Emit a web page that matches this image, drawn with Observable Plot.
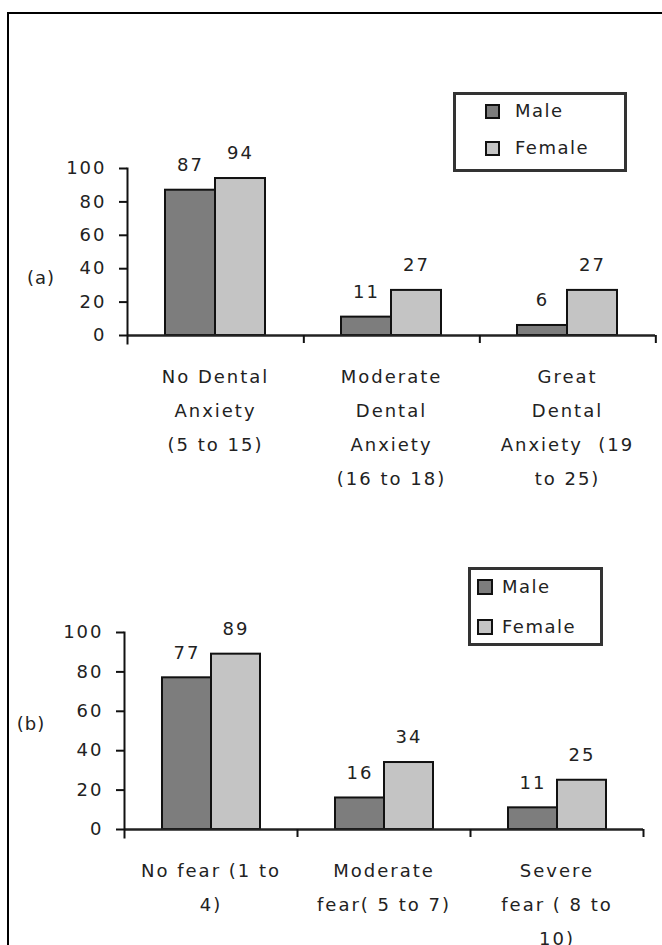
<!DOCTYPE html>
<html>
<head>
<meta charset="utf-8">
<script src="https://cdn.jsdelivr.net/npm/d3@7"></script>
<script src="https://cdn.jsdelivr.net/npm/@observablehq/plot@0.6"></script>
<style>
  html, body { margin: 0; padding: 0; background: #fff; }
  body { width: 662px; height: 945px; overflow: hidden; position: relative; font-family: "DejaVu Sans", sans-serif; color: #222; }
  #border { position: absolute; left: 7px; top: 12px; width: 720px; height: 1000px; border: 2px solid #000; box-sizing: border-box; }
  .panel { position: absolute; left: 0; }
  .panel svg { overflow: visible; }
  .panel svg text { letter-spacing: 2px; }
  .legend { position: absolute; border: 3px solid #333; background: #fff; box-sizing: border-box; font-size: 18px; letter-spacing: 1.5px; }
  .legend .row { position: absolute; height: 20px; line-height: 20px; display: flex; align-items: center; white-space: nowrap; }
  .legend .sw { display: inline-block; width: 15px; height: 15px; border: 2px solid #111; box-sizing: border-box; }
  .tag { position: absolute; font-size: 18px; letter-spacing: 1px; transform: translate(-50%, -50%); white-space: nowrap; }
</style>
</head>
<body>
<div id="border"></div>
<div id="panelA" class="panel" style="top:0px"></div>
<div id="panelB" class="panel" style="top:500px"></div>
<div id="tagA" class="tag" style="left:41px;top:277px"></div>
<div id="tagB" class="tag" style="left:31px;top:723px"></div>
<div id="legendA" class="legend" style="left:453px;top:92px;width:174px;height:80px"></div>
<div id="legendB" class="legend" style="left:468px;top:567px;width:135px;height:79px"></div>
<script>
// ---- data ----
const sexes = ["Male", "Female"];
const sexColors = ["#7d7d7d", "#c4c4c4"];
const yTicks = [0, 20, 40, 60, 80, 100];

const anxietyCategories = [
  "No Dental\nAnxiety\n(5 to 15)",
  "Moderate\nDental\nAnxiety\n(16 to 18)",
  "Great\nDental\nAnxiety  (19\nto 25)"
];
const anxietyMale = [87, 11, 6];
const anxietyFemale = [94, 27, 27];

const fearCategories = [
  "No fear (1 to\n4)",
  "Moderate\nfear( 5 to 7)",
  "Severe\nfear ( 8 to\n10)"
];
const fearMale = [77, 16, 11];
const fearFemale = [89, 34, 25];

const panelTags = ["(a)", "(b)"];

// ---- chart ----
function panel({categories, male, female, height, marginTop, marginBottom, marginLeft, marginRight}) {
  const rows = categories.flatMap((c, i) => [
    {category: c, sex: sexes[0], value: male[i]},
    {category: c, sex: sexes[1], value: female[i]}
  ]);
  const width = 662;
  const bw = (width - marginLeft - marginRight) / categories.length;
  return Plot.plot({
    width, height, marginTop, marginBottom, marginLeft, marginRight,
    style: {fontFamily: '"DejaVu Sans", sans-serif', fontSize: "18px", color: "#222", background: "transparent", overflow: "visible"},
    fx: {domain: categories, padding: 0, label: null},
    x: {domain: sexes, paddingInner: 0, paddingOuter: 0.76, axis: null},
    y: {domain: [0, 100], label: null},
    color: {domain: sexes, range: sexColors},
    marks: [
      Plot.barY(rows, {fx: "category", x: "sex", y: "value", fill: "sex", stroke: "#111", strokeWidth: 2}),
      Plot.text(rows, {fx: "category", x: "sex", y: "value", text: d => String(d.value), dy: -25, fill: "#222"}),
      Plot.ruleY([0], {stroke: "#222", strokeWidth: 2.5}),
      Plot.axisY({ticks: yTicks, tickSize: 8, tickPadding: 13, label: null, strokeWidth: 2, stroke: "#111", fill: "#222"}),
      Plot.frame({anchor: "left", facetAnchor: "left", insetBottom: -8, stroke: "#111", strokeWidth: 2}),
      Plot.axisFx({anchor: "bottom", tickSize: 8, dx: bw / 2, tickFormat: () => "", label: null, stroke: "#111", strokeWidth: 2}),
      Plot.axisFx({anchor: "bottom", tickSize: 0, tickPadding: 23, lineHeight: 1.89, label: null, fill: "#222"})
    ]
  });
}

document.getElementById("panelA").append(panel({
  categories: anxietyCategories, male: anxietyMale, female: anxietyFemale,
  height: 500, marginTop: 168, marginBottom: 165, marginLeft: 126, marginRight: 6
}));
document.getElementById("panelB").append(panel({
  categories: fearCategories, male: fearMale, female: fearFemale,
  height: 445, marginTop: 132, marginBottom: 116, marginLeft: 124, marginRight: 19
}));

document.getElementById("tagA").textContent = panelTags[0];
document.getElementById("tagB").textContent = panelTags[1];

function legend(el, {swLeft, gap, tops, swSize}) {
  sexes.forEach((s, i) => {
    const row = document.createElement("div");
    row.className = "row";
    row.style.left = swLeft + "px";
    row.style.top = tops[i] + "px";
    const sw = document.createElement("span");
    sw.className = "sw";
    sw.style.background = sexColors[i];
    sw.style.width = swSize + "px";
    sw.style.height = swSize + "px";
    sw.style.marginRight = gap + "px";
    row.append(sw, document.createTextNode(s));
    el.append(row);
  });
}
legend(document.getElementById("legendA"), {swLeft: 29, gap: 15, tops: [6, 43], swSize: 15});
legend(document.getElementById("legendB"), {swLeft: 6, gap: 9, tops: [7, 47], swSize: 16});
</script>
</body>
</html>
